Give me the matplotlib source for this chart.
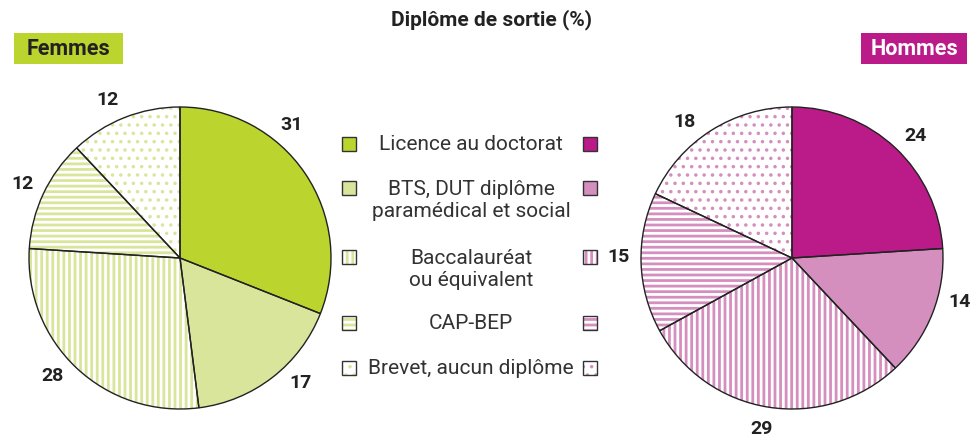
import matplotlib
matplotlib.use("Agg")
import matplotlib.pyplot as plt
import numpy as np
from matplotlib.patches import Rectangle

plt.rcParams['font.family'] = ['Roboto', 'DejaVu Sans']
plt.rcParams['hatch.linewidth'] = 2.0

categories = ["Licence au doctorat", "BTS, DUT diplôme\nparamédical et social",
              "Baccalauréat\nou équivalent", "CAP-BEP", "Brevet, aucun diplôme"]
femmes = [31, 17, 28, 12, 12]
hommes = [24, 14, 29, 15, 18]

green_dark = "#bcd42e"
green_light = "#dae59c"
pink_dark = "#bb1a89"
pink_light = "#d58fbf"

fills_f = [green_dark, green_light, "white", "white", "white"]
hcol_f = [green_dark, green_light, green_light, green_light, green_light]
fills_h = [pink_dark, pink_light, "white", "white", "white"]
hcol_h = [pink_dark, pink_light, pink_light, pink_light, pink_light]
hatches = [None, None, "|||", "---", ".."]
hatch_lw = [2.0, 2.0, 2.0, 2.0, 1.3]
# small angular nudges (degrees) of the value labels, as in the reference
shift_f = [16, 6, -4, 0, 3]
shift_h = [-2, 7, -1, -2, 6]

W, H = 976, 440
fig = plt.figure(figsize=(W / 100, H / 100), dpi=100)


def style_patch(p, fc, hc, ht, hlw):
    p.set_facecolor(fc)
    p.set_edgecolor(hc)
    if ht:
        p.set_hatch(ht)
        if hasattr(p, "set_hatch_linewidth"):
            p.set_hatch_linewidth(hlw)


def draw_pie(cx, cy, r, values, fills, hcols, shifts):
    ax = fig.add_axes([(cx - r) / W, (H - cy - r) / H, 2 * r / W, 2 * r / H])
    wedges, texts = ax.pie(values, startangle=90, counterclock=False, radius=1,
                           labels=[str(v) for v in values], labeldistance=1.15,
                           textprops=dict(fontsize=14, fontweight='bold', color='#222222'),
                           wedgeprops=dict(linewidth=0))
    for w, fc, hc, ht, hlw in zip(wedges, fills, hcols, hatches, hatch_lw):
        style_patch(w, fc, hc, ht, hlw)
    ax.pie(values, startangle=90, counterclock=False, radius=1,
           wedgeprops=dict(facecolor='none', edgecolor='#222222', linewidth=1.0))
    ax.set_xlim(-1, 1)
    ax.set_ylim(-1, 1)
    ax.set_aspect('equal')
    ax.axis('off')
    for w, t, s in zip(wedges, texts, shifts):
        ang = np.deg2rad((w.theta1 + w.theta2) / 2 + s)
        t.set_position((1.15 * np.cos(ang), 1.15 * np.sin(ang)))
        t.set_ha('center')
        t.set_va('center')
        t.set_clip_on(False)
    return ax, texts


axf, tf = draw_pie(180, 258, 151, femmes, fills_f, hcol_f, shift_f)
axh, th = draw_pie(792, 258, 151, hommes, fills_h, hcol_h, shift_h)

# Title
fig.text(492 / W, 1 - 20 / H, "Diplôme de sortie (%)", ha='center', va='center',
         fontsize=15, fontweight='bold', color='#222222')

# Group boxes
fig.add_artist(Rectangle((14 / W, 1 - 64 / H), 109 / W, 31 / H, transform=fig.transFigure,
                         facecolor=green_dark, edgecolor='none'))
fig.text(68 / W, 1 - 49 / H, "Femmes", ha='center', va='center', fontsize=15.5,
         fontweight='bold', color='#222222')
fig.add_artist(Rectangle((861 / W, 1 - 64 / H), 106 / W, 31 / H, transform=fig.transFigure,
                         facecolor=pink_dark, edgecolor='none'))
fig.text(914 / W, 1 - 49 / H, "Hommes", ha='center', va='center', fontsize=15.5,
         fontweight='bold', color='white')

# Legend
row_y = [144, 188, 257, 323, 368]
text_y = [144, 200, 269, 323, 368]
for i, cat in enumerate(categories):
    for mx, fills, hcols in ((349, fills_f, hcol_f), (590, fills_h, hcol_h)):
        s = 14
        rect = Rectangle(((mx - s / 2) / W, 1 - (row_y[i] + s / 2) / H), s / W, s / H,
                         transform=fig.transFigure, facecolor=fills[i], edgecolor=hcols[i],
                         linewidth=0)
        style_patch(rect, fills[i], hcols[i], hatches[i], hatch_lw[i])
        fig.add_artist(rect)
        border = Rectangle(((mx - s / 2) / W, 1 - (row_y[i] + s / 2) / H), s / W, s / H,
                           transform=fig.transFigure, facecolor='none',
                           edgecolor='#333333', linewidth=1.0)
        fig.add_artist(border)
    fig.text(471 / W, 1 - text_y[i] / H, cat, ha='center', va='center', fontsize=15,
             color='#333333', linespacing=1.2)

fig.savefig("out.png", dpi=100)
